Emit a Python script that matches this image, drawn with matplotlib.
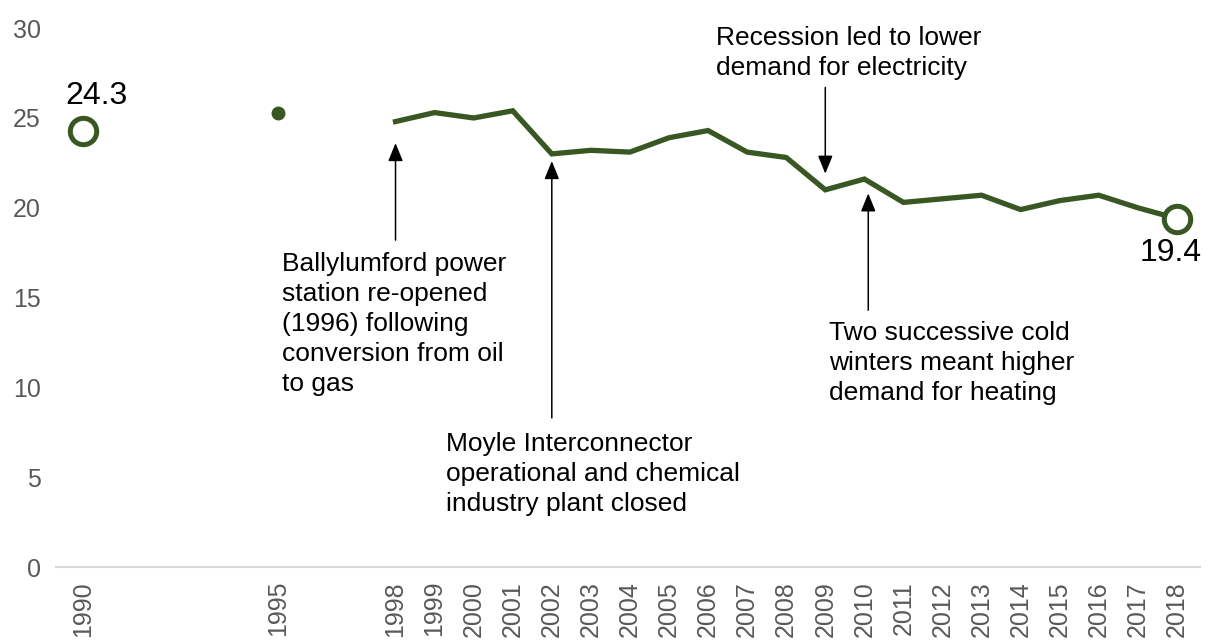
import matplotlib.pyplot as plt

plt.rcParams['font.family'] = ['Liberation Sans', 'DejaVu Sans']

# Emissions by year
years = [1990, 1995, 1998, 1999, 2000, 2001, 2002, 2003, 2004, 2005, 2006,
         2007, 2008, 2009, 2010, 2011, 2012, 2013, 2014, 2015, 2016, 2017, 2018]
values = [24.3, 25.3, 24.8, 25.3, 25.0, 25.4, 23.0, 23.2, 23.1, 23.9, 24.3,
          23.1, 22.8, 21.0, 21.6, 20.3, 20.5, 20.7, 19.9, 20.4, 20.7, 20.0, 19.4]
tick_labels = [str(y) for y in years]

green = '#385723'
grey = '#595959'

fig = plt.figure(figsize=(12.1, 6.4), dpi=100)
ax = fig.add_axes([0.0463, 0.114, 0.9454, 0.842])

# continuous series from 1998
ax.plot(years[2:], values[2:], color=green, lw=3.8, solid_joinstyle='miter', zorder=3)
# 1995 single point
ax.plot(years[1], values[1], 'o', color=green, ms=9, zorder=3)
# end markers
for i in (0, -1):
    ax.plot(years[i], values[i], 'o', ms=19, mfc='white', mec=green, mew=3.6, zorder=4)

ax.text(years[0] + 0.35, values[0] + 1.1, f'{values[0]:.1f}', fontsize=23, ha='center', va='bottom')
ax.text(years[-1] - 0.15, values[-1] - 1.1, f'{values[-1]:.1f}', fontsize=23, ha='center', va='top')

arrow = dict(arrowstyle='-|>,head_length=1.1,head_width=0.45', color='black', lw=1.1, shrinkA=0, shrinkB=0)
ax.annotate('', xy=(1998, 23.6), xytext=(1998, 18.2), arrowprops=arrow)
ax.annotate('', xy=(2002, 22.6), xytext=(2002, 8.3), arrowprops=arrow)
ax.annotate('', xy=(2009, 21.9), xytext=(2009, 26.7), arrowprops=arrow)
ax.annotate('', xy=(2010.1, 20.8), xytext=(2010.1, 14.3), arrowprops=arrow)

note = dict(fontsize=19, va='top', ha='left', linespacing=1.32)
ax.text(1995.1, 17.55, 'Ballylumford power\nstation re-opened\n(1996) following\nconversion from oil\nto gas', **note)
ax.text(1999.3, 7.5, 'Moyle Interconnector\noperational and chemical\nindustry plant closed', **note)
ax.text(2006.2, 30.1, 'Recession led to lower\ndemand for electricity', **note)
ax.text(2009.1, 13.7, 'Two successive cold\nwinters meant higher\ndemand for heating', **note)

ax.set_xlim(1989.31, 2018.59)
ax.set_ylim(0, 30)
ax.set_yticks(range(0, 31, 5))
ax.set_xticks(years)
ax.set_xticklabels(tick_labels, rotation=90)
ax.tick_params(axis='both', length=0, labelsize=18, colors=grey)
ax.tick_params(axis='y', pad=11)
ax.tick_params(axis='x', pad=10)

for s in ('top', 'right', 'left'):
    ax.spines[s].set_visible(False)
ax.spines['bottom'].set_color('#d9d9d9')
ax.spines['bottom'].set_linewidth(1.5)

fig.savefig('out.png', dpi=100)
